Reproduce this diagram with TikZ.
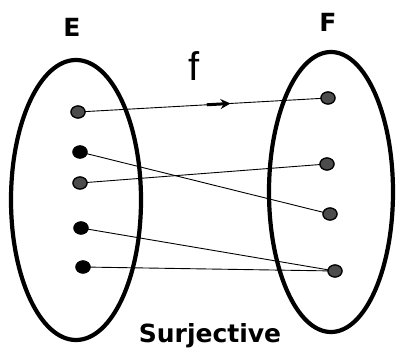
\documentclass[tikz,border=0pt]{standalone}
\usepackage{fontspec}
\setmainfont{DejaVu Sans}
\newfontfamily\lsans{Liberation Sans}
\usetikzlibrary{arrows.meta,shapes.geometric}
\begin{document}
\begin{tikzpicture}[x=1pt,y=-1pt,
  setbox/.style={draw=black,line width=4.2pt},
  elt/.style={ellipse,draw=black,line width=1.2pt,fill=#1,minimum width=14pt,minimum height=12pt,inner sep=0pt},
  elt/.default={black!70},
  link/.style={draw=black,line width=0.9pt},
  lbl/.style={font=\bfseries\fontsize{25}{30}\selectfont}]
\useasboundingbox (0,0) rectangle (400,350);
% sets
\draw[setbox] (76,200) ellipse [x radius=65, y radius=140];
\draw[setbox] (331,192) ellipse [x radius=62, y radius=140];
% elements of E
\node[elt] (e1) at (78,112) {};
\node[elt=black] (e2) at (80,152) {};
\node[elt] (e3) at (80,183) {};
\node[elt=black] (e4) at (81,228) {};
\node[elt=black] (e5) at (83,267) {};
% elements of F
\node[elt] (f1) at (328,98) {};
\node[elt] (f2) at (327,164) {};
\node[elt] (f3) at (330,214) {};
\node[elt] (f4) at (335,271) {};
% connectors
\draw[link] (e1.center) -- coordinate[pos=0.515] (a1) coordinate[pos=0.61] (a2) (f1.center);
\draw[line width=3pt,-{Stealth[length=10pt,width=10pt]}] (a1) -- (a2);
\draw[link] (e2.center) -- (f3.center);
\draw[link] (e3.center) -- (f2.center);
\draw[link] (e4.center) -- (f4.center);
\draw[link] (e5.center) -- (f4.center);
% redraw dots on top
\foreach \n in {e1,e3,f1,f2,f3,f4}{\node[elt] at (\n) {};}
\foreach \n in {e2,e4,e5}{\node[elt=black] at (\n) {};}
% labels
\node[lbl] (E) at (72,27) {E};
\node[lbl] (F) at (328,22) {F};
\node[font=\lsans\fontsize{40}{48}\selectfont] (fl) at (194,66) {f};
\node[font=\bfseries\fontsize{25}{30}\selectfont] (S) at (210,336) {Surjective};
\end{tikzpicture}
\end{document}
